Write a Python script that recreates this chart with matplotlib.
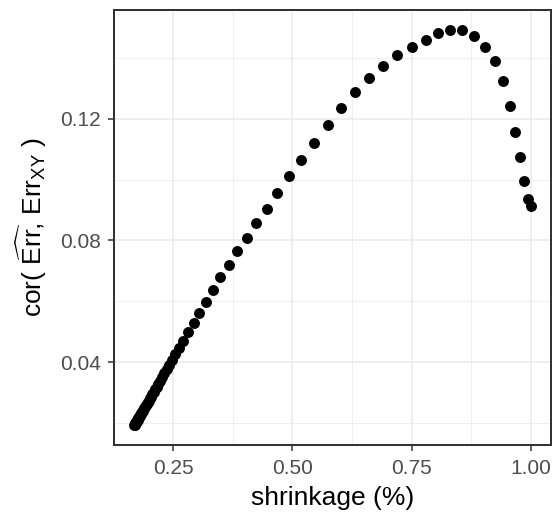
import numpy as np
import matplotlib
matplotlib.use("Agg")
import matplotlib.pyplot as plt
from matplotlib.ticker import MultipleLocator

plt.rcParams['font.family'] = ['Liberation Sans', 'DejaVu Sans']
plt.rcParams['mathtext.fontset'] = 'custom'
plt.rcParams['mathtext.rm'] = 'Liberation Sans'
plt.rcParams['mathtext.it'] = 'Liberation Sans:italic'

# shrinkage (%) vs correlation
shrinkage = [0.1682, 0.1687, 0.1692, 0.1697, 0.1703, 0.1709, 0.1715, 0.1721, 0.1728, 0.1735,
             0.1742, 0.1750, 0.1758, 0.1767, 0.1776, 0.1786, 0.1796, 0.1807, 0.1818, 0.1830,
             0.1843, 0.1857, 0.1871, 0.1887, 0.1903, 0.1921, 0.1940, 0.1960, 0.1982, 0.2005,
             0.2030, 0.2057, 0.2086, 0.2117, 0.2150, 0.2186, 0.2225, 0.2267, 0.2313, 0.2363,
             0.2418, 0.2478, 0.2545, 0.2619, 0.2709, 0.2814, 0.2934, 0.3045, 0.3191, 0.3338,
             0.3485, 0.3661, 0.3841, 0.4039, 0.4240, 0.4458, 0.4680, 0.4926, 0.5183, 0.5456,
             0.5737, 0.6022, 0.6310, 0.6603, 0.6900, 0.7195, 0.7504, 0.7797, 0.8049, 0.8301,
             0.8552, 0.8804, 0.9035, 0.9244, 0.9412, 0.9559, 0.9664, 0.9769, 0.9853, 0.9937,
             1.0000]
correlation = [0.0192, 0.0193, 0.0195, 0.0196, 0.0198, 0.0199, 0.0201, 0.0203, 0.0205, 0.0206,
               0.0208, 0.0210, 0.0213, 0.0215, 0.0218, 0.0220, 0.0223, 0.0226, 0.0229, 0.0232,
               0.0236, 0.0239, 0.0243, 0.0248, 0.0252, 0.0257, 0.0262, 0.0267, 0.0273, 0.0280,
               0.0286, 0.0294, 0.0302, 0.0310, 0.0319, 0.0329, 0.0339, 0.0351, 0.0363, 0.0377,
               0.0391, 0.0408, 0.0426, 0.0446, 0.0470, 0.0498, 0.0528, 0.0561, 0.0597, 0.0636,
               0.0679, 0.0719, 0.0764, 0.0809, 0.0857, 0.0905, 0.0957, 0.1012, 0.1066, 0.1122,
               0.1180, 0.1236, 0.1287, 0.1333, 0.1373, 0.1410, 0.1435, 0.1461, 0.1481, 0.1494,
               0.1494, 0.1474, 0.1438, 0.1392, 0.1326, 0.1241, 0.1158, 0.1076, 0.0997, 0.0935,
               0.0912]

fig = plt.figure(figsize=(5.55, 5.14), dpi=100)
ax = fig.add_axes([0.2063, 0.1342, 0.7856, 0.8469])

ax.scatter(shrinkage, correlation, s=62, color="black", linewidths=0, zorder=3)

xr = max(shrinkage) - min(shrinkage)
yr = max(correlation) - min(correlation)
ax.set_xlim(min(shrinkage) - 0.05 * xr, max(shrinkage) + 0.05 * xr)
ax.set_ylim(min(correlation) - 0.05 * yr, max(correlation) + 0.05 * yr)

ax.set_xticks([0.25, 0.50, 0.75, 1.00])
ax.set_xticklabels(["0.25", "0.50", "0.75", "1.00"])
ax.set_yticks([0.04, 0.08, 0.12])
ax.set_yticklabels(["0.04", "0.08", "0.12"])
ax.xaxis.set_minor_locator(MultipleLocator(0.125))
ax.yaxis.set_minor_locator(MultipleLocator(0.02))

ax.grid(which="major", color="#EBEBEB", linewidth=1.1)
ax.grid(which="minor", color="#EBEBEB", linewidth=0.55)
ax.set_axisbelow(True)

ax.tick_params(which="major", length=4.3, width=1.1, color="#333333",
               labelcolor="#4D4D4D", labelsize=15)
ax.tick_params(axis="x", pad=5.5)
ax.tick_params(axis="y", pad=5.5)
ax.tick_params(which="minor", length=0)
for sp in ax.spines.values():
    sp.set_color("#333333")
    sp.set_linewidth(1.45)

ax.set_xlabel("shrinkage (%)", fontsize=19, color="black", labelpad=6)
ax.set_ylabel(r"cor( $\widehat{\mathrm{Err}}$, $\mathrm{Err}_{\mathrm{XY}}$ )",
              fontsize=19, color="black", labelpad=8)

fig.savefig("out.png", dpi=100)
